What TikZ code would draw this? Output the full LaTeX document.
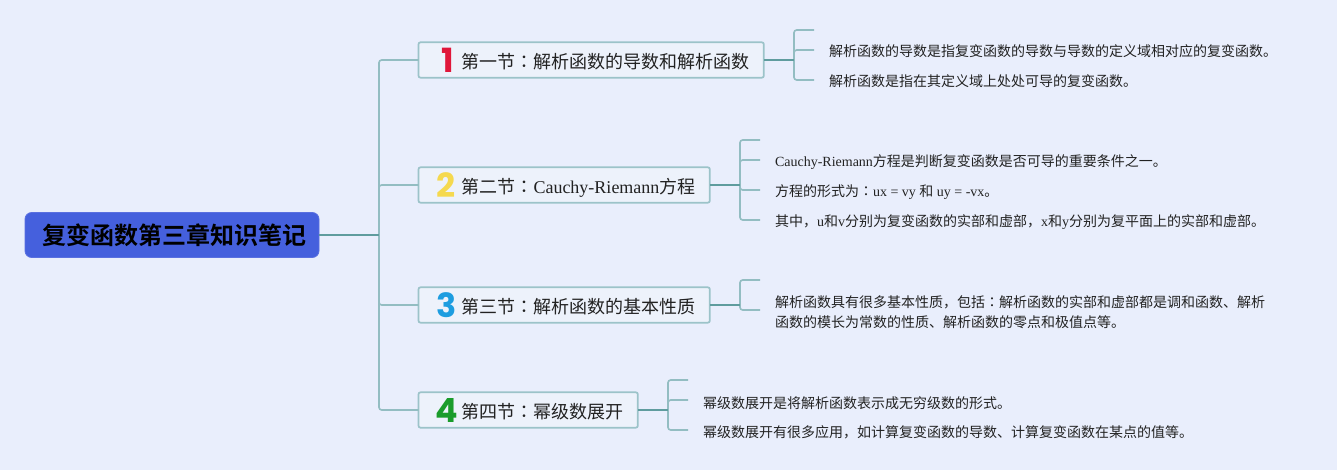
\documentclass[tikz,border=0pt]{standalone}
\usepackage{fontspec}
\setmainfont{Liberation Serif}
\newfontfamily\cjk{Noto Sans CJK SC}
\newfontfamily\cjkb{Noto Sans CJK SC Bold}
\newfontfamily\cjkc{Noto Sans CJK TC}
\newfontfamily\numf{Poppins Bold}
\newcommand{\Z}[1]{{\cjk #1}}
\newcommand{\cln}{{\cjkc ：}}
\newcommand{\seclabel}[1]{\hspace*{32.25pt}#1}
\definecolor{bgc}{HTML}{E9EEFC}
\definecolor{rootc}{HTML}{4560DD}
\definecolor{rootb}{HTML}{5A70E0}
\definecolor{boxf}{HTML}{EDF2FB}
\definecolor{boxb}{HTML}{9CC3C9}
\definecolor{linel}{HTML}{93BDC2}
\definecolor{lined}{HTML}{5F9C9E}
\definecolor{txt}{HTML}{222222}
\definecolor{nred}{HTML}{E0173A}
\definecolor{nyel}{HTML}{F5D94E}
\definecolor{nblu}{HTML}{1D9DE0}
\definecolor{ngrn}{HTML}{1A9C2B}
\tikzset{
 rootbox/.style={draw=rootb,fill=rootc,line width=0.6pt,rounded corners=5pt,minimum height=33.75pt,minimum width=220.5pt,inner sep=0,outer sep=0,anchor=west,font=\cjkb\fontsize{18}{20}\selectfont,text=black},
 secbox/.style={draw=boxb,fill=boxf,line width=1.3pt,rounded corners=1.5pt,minimum height=26.5pt,inner xsep=0,inner ysep=0,outer sep=0,anchor=west,align=left,text=txt,text height=14pt,text depth=1.4pt,font=\fontsize{13.5}{16}\selectfont},
 leaf/.style={inner xsep=11.25pt,inner ysep=0,outer sep=0,anchor=west,align=left,text=txt,font=\fontsize{10.5}{15}\selectfont},
 oneline/.style={text height=11.5pt,text depth=1.7pt},
 lowline/.style={text height=12.5pt,text depth=1.7pt},
 digit/.style={inner sep=0,outer sep=0,font=\numf\fontsize{25}{28}\selectfont},
 thin link/.style={draw=linel,line width=1.2pt,rounded corners=2pt},
 main link/.style={draw=lined,line width=1.4pt},
}
\begin{document}
\begin{tikzpicture}[x=0.75pt,y=-0.75pt]
\fill[bgc] (0,0) rectangle (1337,470);
\useasboundingbox (0,0) rectangle (1337,470);

\node[rootbox] (root) at (25,235) {\hspace*{3pt}复变函数第三章知识笔记};

\node[secbox,text width=259pt] (s1) at (418.5,60) {\seclabel{\Z{第一节}\cln\Z{解析函数的导数和解析函数}}};
\node[secbox,text width=218.5pt] (s2) at (418.5,185) {\seclabel{\Z{第二节}\cln Cauchy-Riemann\Z{方程}}};
\node[secbox,text width=218.5pt] (s3) at (418.5,305) {\seclabel{\Z{第三节}\cln\Z{解析函数的基本性质}}};
\node[secbox,text width=164.5pt] (s4) at (418.5,410) {\seclabel{\Z{第四节}\cln\Z{幂级数展开}}};

\node[digit,text=nred] (n1) at (447.5,60.5) {1};
\node[digit,text=nyel] (n2) at (446.5,185.5) {2};
\node[digit,text=nblu] (n3) at (446.5,305.5) {3};
\node[digit,text=ngrn] (n4) at (446.5,410.5) {4};

\coordinate (h0) at (379,235);
\coordinate (h1) at (794,60);
\coordinate (h2) at (740,185);
\coordinate (h3) at (740,305);
\coordinate (h4) at (668,410);

\coordinate (e1) at (814,30);
\coordinate (e2) at (760,140);
\coordinate (e3) at (760,280);
\coordinate (e4) at (688,380);

\node[leaf,oneline] (a1) at (814,50) {\Z{解析函数的导数是指复变函数的导数与导数的定义域相对应的复变函数。}};
\node[leaf,oneline] (a2) at (814,80) {\Z{解析函数是指在其定义域上处处可导的复变函数。}};
\node[leaf,oneline] (b1) at (760,160) {Cauchy-Riemann\Z{方程是判断复变函数是否可导的重要条件之一。}};
\node[leaf,oneline] (b2) at (760,190) {\Z{方程的形式为}\cln ux = vy \Z{和} uy = -vx\Z{。}};
\node[leaf,oneline] (b3) at (760,220) {\Z{其中，}u\Z{和}v\Z{分别为复变函数的实部和虚部，}x\Z{和}y\Z{分别为复平面上的实部和虚部。}};
\node[leaf] (c1) at (760,310) {\rule{0pt}{12.3pt}\Z{解析函数具有很多基本性质，包括}\cln\Z{解析函数的实部和虚部都是调和函数、解析}\\\Z{函数的模长为常数的性质、解析函数的零点和极值点等。}};
\node[leaf,text height=14pt,text depth=1.7pt] (d1) at (688,400) {\Z{幂级数展开是将解析函数表示成无穷级数的形式。}};
\node[leaf,lowline] (d2) at (688,430) {\Z{幂级数展开有很多应用，如计算复变函数的导数、计算复变函数在某点的值等。}};

\draw[thin link] (h0) |- (s1.west);
\draw[thin link] (h0) |- (s2.west);
\draw[thin link] (h0) |- (s3.west);
\draw[thin link] (h0) |- (s4.west);
\draw[main link] (root.east) -- (h0);

\draw[thin link] (h1) |- (e1);
\draw[thin link] (h1) |- (a1.west);
\draw[thin link] (h1) |- (a2.west);
\draw[main link] (s1.east) -- (h1);

\draw[thin link] (h2) |- (e2);
\draw[thin link] (h2) |- (b1.west);
\draw[thin link] (h2) |- (b2.west);
\draw[thin link] (h2) |- (b3.west);
\draw[main link] (s2.east) -- (h2);

\draw[thin link] (h3) |- (e3);
\draw[thin link] (h3) |- (c1.west);
\draw[main link] (s3.east) -- (h3);

\draw[thin link] (h4) |- (e4);
\draw[thin link] (h4) |- (d1.west);
\draw[thin link] (h4) |- (d2.west);
\draw[main link] (s4.east) -- (h4);
\end{tikzpicture}
\end{document}
